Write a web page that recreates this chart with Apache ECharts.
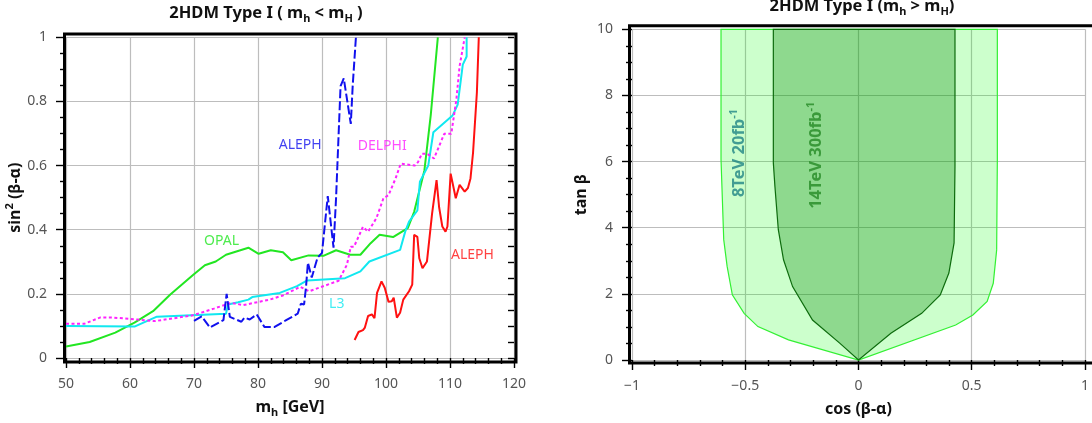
<!DOCTYPE html>
<html><head><meta charset="utf-8">
<script src="https://cdn.jsdelivr.net/npm/echarts@6/dist/echarts.min.js"></script>
<style>html,body{margin:0;padding:0;background:#fff}#c{width:1092px;height:423px}</style>
</head><body><div id="c"></div>
<script>
// ---------------- LEFT PANEL DATA: [m_h (GeV), sin^2(beta-alpha)] ----------------
const opal = [[50,0.036],[53.7,0.05],[57.7,0.079],[60.7,0.11],[63.6,0.146],[66.3,0.198],[69.8,0.258],[71.7,0.289],[73.4,0.301],[75,0.322],[78.5,0.344],[80.1,0.325],[82,0.336],[83.9,0.33],[85.2,0.305],[87.9,0.32],[90.3,0.319],[92.2,0.336],[94.4,0.322],[96,0.322],[97.6,0.358],[99,0.384],[101.1,0.377],[103.4,0.405],[104.4,0.456],[106,0.585],[107,0.759],[108.1,1.0]];
const l3 = [[50,0.1],[60.7,0.098],[64.2,0.129],[75,0.138],[75.3,0.167],[76.9,0.174],[78.5,0.182],[79.1,0.19],[83.4,0.203],[86.1,0.224],[87.7,0.242],[93.6,0.249],[96,0.27],[97.4,0.301],[102.2,0.337],[103,0.394],[103.6,0.425],[104.9,0.46],[105.3,0.55],[106.6,0.6],[107.4,0.704],[110.4,0.756],[111.2,0.79],[112,0.915],[112.6,0.94],[112.6,1.0]];
const delphi = [[50,0.107],[52.9,0.107],[55.3,0.126],[57.4,0.126],[61.2,0.12],[63.9,0.115],[69.8,0.133],[73.1,0.154],[75.8,0.172],[77.7,0.165],[81.8,0.182],[83.9,0.195],[86.6,0.222],[88,0.208],[92.6,0.241],[93.9,0.291],[94.5,0.347],[95,0.347],[96.4,0.409],[97.2,0.394],[98.5,0.436],[99.6,0.498],[100.4,0.508],[101.5,0.56],[102.3,0.606],[104.5,0.6],[105,0.611],[105.6,0.637],[106.4,0.637],[107.5,0.622],[109.1,0.699],[110.2,0.699],[111,0.807],[111.5,0.91],[112.3,1.0]];
const alephLow = [[70,0.116],[71.2,0.13],[72.5,0.095],[74.6,0.118],[75.1,0.2],[75.6,0.128],[77.4,0.113],[77.9,0.126],[78.7,0.12],[79.8,0.136],[81,0.097],[82.6,0.097],[84.4,0.118],[86.2,0.138],[86.7,0.169],[87.2,0.167],[87.5,0.221],[87.8,0.297],[88.4,0.251],[89.3,0.313],[90,0.328],[90.9,0.505],[91.8,0.344],[92.2,0.5],[92.9,0.848],[93.4,0.872],[94.5,0.73],[94.8,0.85],[95.3,1.0]];
const alephHigh = [[95.1,0.056],[95.7,0.081],[96.4,0.087],[96.7,0.095],[97.2,0.131],[97.8,0.136],[98.2,0.124],[98.6,0.203],[99.3,0.239],[99.8,0.219],[100.4,0.175],[100.9,0.177],[101.2,0.188],[101.7,0.126],[102.2,0.141],[102.7,0.182],[103.6,0.208],[104.1,0.229],[104.4,0.384],[104.9,0.378],[105.2,0.311],[105.7,0.28],[106.4,0.301],[107.2,0.45],[107.9,0.555],[108.3,0.47],[108.8,0.41],[109.3,0.394],[109.6,0.41],[110.1,0.575],[110.9,0.498],[111.5,0.54],[112.3,0.519],[112.8,0.53],[113.2,0.56],[113.6,0.64],[114.2,0.828],[114.5,1.0]];
const leftLabelNames = ['ALEPH','DELPHI','OPAL','L3','ALEPH'];
const leftLabelAnchors = [[86.6,0.663],[99.4,0.66],[74.3,0.365],[92.3,0.169],[113.5,0.32]];
const leftLabelColors = ['#1111ee','#ff22ff','#22e622','#11e8f0','#ff1111'];

// ---------------- RIGHT PANEL DATA: [cos(beta-alpha), tan beta] ----------------
const band8Left = [[-0.607,10],[-0.607,6.06],[-0.595,3.64],[-0.58,2.83],[-0.557,1.97],[-0.505,1.41],[-0.444,1.01],[-0.309,0.61],[0,0]];
const band8Right = [[0.613,10],[0.613,6.06],[0.61,3.33],[0.595,2.32],[0.568,1.77],[0.505,1.36],[0.429,1.06],[0,0]];
const band14Left = [[-0.376,10],[-0.376,5.96],[-0.369,5.25],[-0.354,3.94],[-0.331,3.03],[-0.291,2.22],[-0.203,1.21],[-0.083,0.51],[0,0]];
const band14Right = [[0.426,10],[0.426,5.86],[0.422,3.54],[0.399,2.63],[0.361,1.97],[0.279,1.41],[0.143,0.81],[0,0]];
const rightLabelTexts = ['{t|8TeV 20fb}{ts|-1}', '{g|14TeV 300fb}{gs|-1}'];
const rightLabelAnchors = [[-0.527,6.26],[-0.188,6.19]];

// ---------------- TICKS ----------------
const xTicksLeft = {min:50, max:120, step:10};
const yTicksLeft = {min:0, max:1, step:0.2};
const xTicksRight = {min:-1, max:1, step:0.5};
const yTicksRight = {min:0, max:10, step:2};

const FONT = "'Noto Sans', 'DejaVu Sans', sans-serif";
const chart = echarts.init(document.getElementById('c'), null, {renderer:'canvas'});

const GL = {l:66, t:37.3, r:514, b:360.6};
const GR = {l:632, t:29.3, r:1091, b:360};

const tickLine = {color:'#000', width:1.4};
const split = {show:true, lineStyle:{color:'#bdbdbd', width:1.2}};
const lbl = {color:'#555', fontSize:14, fontFamily:FONT};
const noLine = {show:false, onZero:false};
function richSet(size) {
  return {
    a:{fontSize:size, fontWeight:'bold', color:'#111', fontFamily:FONT, lineHeight:size+5},
    s:{fontSize:Math.round(size*0.66), fontWeight:'bold', color:'#111', fontFamily:FONT, lineHeight:12, verticalAlign:'bottom'},
    u:{fontSize:Math.round(size*0.66), fontWeight:'bold', color:'#111', fontFamily:FONT, lineHeight:12, verticalAlign:'top'}
  };
}
const titleRich = richSet(16.5);
const nameRich = richSet(16);

function bandPolygon(left, right) {
  return left.concat(right.slice().reverse());
}
function polySeries(points, fill, stroke) {
  return {
    type:'custom', xAxisIndex:1, yAxisIndex:2, silent:true,
    data:[[0,0]],
    renderItem: function(params, api) {
      return {type:'polygon', shape:{points: points.map(p => api.coord(p))},
              style:{fill:fill, stroke:stroke, lineWidth:1.2}};
    }
  };
}
function lineSeries(data, color, type) {
  return {type:'line', xAxisIndex:0, yAxisIndex:0, data:data, showSymbol:false, symbol:'none',
    silent:true, lineStyle:{color:color, width:2, type:type}, z:3};
}

const option = {
  animation:false,
  backgroundColor:'#fff',
  title:[
    {text:'{a|2HDM Type I ( m}{s|h}{a| < m}{s|H}{a| )}', left:266, top:3, textAlign:'center', padding:0,
     textStyle:{rich:titleRich}},
    {text:'{a|2HDM Type I (m}{s|h}{a| > m}{s|H}{a|)}', left:862, top:-4, textAlign:'center', padding:0,
     textStyle:{rich:titleRich}}
  ],
  grid:[
    {left:GL.l, top:GL.t, width:GL.r-GL.l, height:GL.b-GL.t},
    {left:GR.l, top:GR.t, width:GR.r-GR.l, height:GR.b-GR.t}
  ],
  xAxis:[
    {gridIndex:0, type:'value', min:xTicksLeft.min, max:xTicksLeft.max, interval:xTicksLeft.step,
     axisLine:noLine, axisTick:{show:true, length:10, lineStyle:tickLine},
     minorTick:{show:true, splitNumber:5, length:6, lineStyle:tickLine},
     splitLine:split, axisLabel:Object.assign({margin:19}, lbl),
     name:'{a|m}{s|h}{a| [GeV]}', nameLocation:'middle', nameGap:39, nameTextStyle:{rich:nameRich}},
    {gridIndex:1, type:'value', min:xTicksRight.min, max:xTicksRight.max, interval:xTicksRight.step,
     axisLine:noLine, axisTick:{show:true, length:10, lineStyle:tickLine},
     minorTick:{show:true, splitNumber:5, length:6, lineStyle:tickLine},
     splitLine:split, axisLabel:Object.assign({margin:19, formatter:v => String(v).replace('-', '\u2212')}, lbl),
     name:'{a|cos (β-α)}', nameLocation:'middle', nameGap:39, nameTextStyle:{rich:nameRich}}
  ],
  yAxis:[
    {gridIndex:0, type:'value', min:yTicksLeft.min, max:yTicksLeft.max, interval:yTicksLeft.step,
     axisLine:noLine, axisTick:{show:true, length:10, lineStyle:tickLine},
     minorTick:{show:true, splitNumber:4, length:6, lineStyle:tickLine},
     splitLine:split, axisLabel:Object.assign({margin:19}, lbl),
     name:'{a|sin}{u|2}{a| (β-α)}', nameLocation:'middle', nameGap:38, nameRotate:90, nameTextStyle:{rich:nameRich}},
    {gridIndex:0, type:'value', position:'right', min:yTicksLeft.min, max:yTicksLeft.max, interval:yTicksLeft.step,
     axisLine:noLine, axisTick:{show:true, inside:true, length:6, lineStyle:tickLine},
     minorTick:{show:true, splitNumber:4, length:6, lineStyle:tickLine},
     splitLine:{show:false}, axisLabel:{show:false}},
    {gridIndex:1, type:'value', min:yTicksRight.min, max:yTicksRight.max, interval:yTicksRight.step,
     axisLine:noLine, axisTick:{show:true, length:10, lineStyle:tickLine},
     minorTick:{show:true, splitNumber:4, length:6, lineStyle:tickLine},
     splitLine:split, axisLabel:Object.assign({margin:19}, lbl),
     name:'{a|tan β}', nameLocation:'middle', nameGap:40, nameRotate:90, nameTextStyle:{rich:nameRich}}
  ],
  series:[
    lineSeries(opal, '#22e622', 'solid'),
    lineSeries(l3, '#11e8f0', 'solid'),
    lineSeries(delphi, '#ff22ff', [3,2.5]),
    lineSeries(alephLow, '#1111ee', [9,3]),
    lineSeries(alephHigh, '#ff1111', 'solid'),
    {type:'scatter', xAxisIndex:0, yAxisIndex:0, silent:true, symbol:'circle', symbolSize:1,
     itemStyle:{color:'rgba(0,0,0,0)'},
     data: leftLabelAnchors.map((p,i) => ({value:p, label:{show:true, position:'inside', formatter:leftLabelNames[i],
        color:leftLabelColors[i], fontSize:14, fontFamily:FONT}})), z:5},
    polySeries(bandPolygon(band8Left, band8Right), 'rgba(0,255,0,0.2)', '#33f033'),
    polySeries(bandPolygon(band14Left, band14Right), 'rgba(0,128,0,0.3)', '#0d6b0d'),
    {type:'scatter', xAxisIndex:1, yAxisIndex:2, silent:true, symbol:'circle', symbolSize:1,
     itemStyle:{color:'rgba(0,0,0,0)'},
     data: rightLabelAnchors.map((p,i) => ({value:p, label:{show:true, position:'inside', rotate:90,
        formatter:rightLabelTexts[i],
        rich:{
          t:{color:'#1f8585', fontSize:16.5, fontWeight:'bold', fontFamily:FONT, lineHeight:21},
          ts:{color:'#1f8585', fontSize:11, fontWeight:'bold', fontFamily:FONT, lineHeight:12, verticalAlign:'top'},
          g:{color:'#258a25', fontSize:16.5, fontWeight:'bold', fontFamily:FONT, lineHeight:21},
          gs:{color:'#258a25', fontSize:11, fontWeight:'bold', fontFamily:FONT, lineHeight:12, verticalAlign:'top'}
        }}})), z:5}
  ],
  graphic:[
    {type:'rect', z:100, silent:true, shape:{x:GL.l-1.5, y:GL.t-3.3, width:(GL.r-GL.l)+3.5, height:(GL.b-GL.t)+4.6},
     style:{fill:'none', stroke:'#000', lineWidth:3}},
    {type:'rect', z:100, silent:true, shape:{x:GR.l-2.5, y:GR.t-3.5, width:(GR.r-GR.l)+40, height:(GR.b-GR.t)+6.5},
     style:{fill:'none', stroke:'#000', lineWidth:3}}
  ]
};
chart.setOption(option);
</script></body></html>
